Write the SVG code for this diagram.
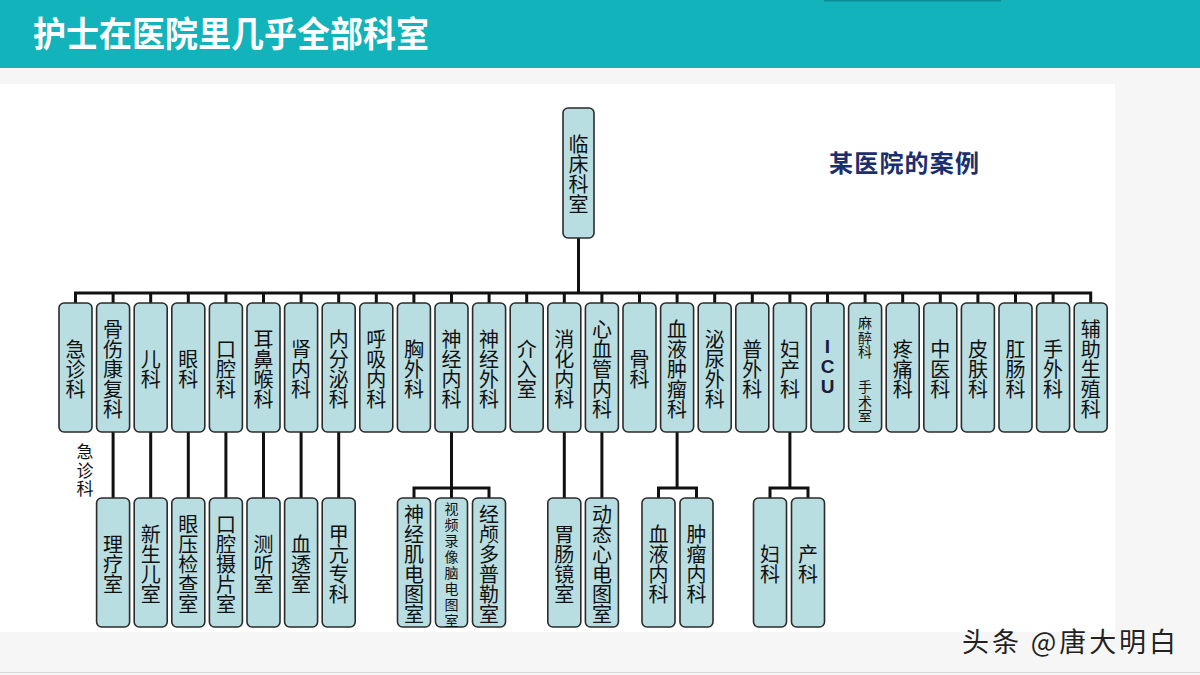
<svg xmlns="http://www.w3.org/2000/svg" width="1200" height="675" viewBox="0 0 1200 675">
<style>
.box{fill:#B8DEE2;stroke:#2b2b2b;stroke-width:1.6}
.t{font-family:"Noto Sans CJK SC","Noto Sans",sans-serif;font-size:20px;fill:#111;text-anchor:middle;dominant-baseline:central}
.t tspan{dominant-baseline:central}
.s{font-size:14px}
.xs{font-size:14px}
.ln{fill:none;stroke:#111;stroke-width:3;stroke-linejoin:miter}
</style>
<rect x="0" y="0" width="1200" height="675" fill="#F6F6F6"/>
<rect x="0" y="84" width="1115" height="548" fill="#FFFFFF"/>
<line x1="0" y1="672.5" x2="1200" y2="672.5" stroke="#DADADA" stroke-width="1"/>
<g id="header">
<rect x="0" y="0" width="1200" height="68" fill="#12B3BB"/>
<rect x="824" y="0" width="177" height="1.5" fill="#0B8E95"/>
<text x="33" y="47" font-family="'Noto Sans CJK SC',sans-serif" font-size="35" font-weight="bold" fill="#FFFFFF" textLength="396" lengthAdjust="spacingAndGlyphs">护士在医院里几乎全部科室</text>
</g>
<text id="caption" x="829" y="172" font-family="'Noto Sans CJK SC',sans-serif" font-size="24" font-weight="bold" fill="#1B2F6E" textLength="150">某医院的案例</text>

<g id="connectors">
<path class="ln" d="M578.5 238V293"/>
<path class="ln" d="M75.5 303V293H1090.7V303"/>
<path class="ln" d="M113.1 293V303M150.7 293V303M188.3 293V303M225.9 293V303M263.5 293V303M301.1 293V303M338.7 293V303M376.3 293V303M413.9 293V303M451.5 293V303M489.1 293V303M526.7 293V303M564.3 293V303M601.9 293V303M639.5 293V303M677.1 293V303M714.7 293V303M752.3 293V303M789.9 293V303M827.5 293V303M865.1 293V303M902.7 293V303M940.3 293V303M977.9 293V303M1015.5 293V303M1053.1 293V303"/>
<path class="ln" d="M113.1 432V498M150.7 432V498M188.3 432V498M225.9 432V498M263.5 432V498M301.1 432V498M338.7 432V498M564.3 432V498M601.9 432V498"/>
<path class="ln" d="M451.5 432V498M414 498V488H489V498"/>
<path class="ln" d="M677.1 432V488M658.5 498V488H696.5V498"/>
<path class="ln" d="M789.9 432V488M770 498V488H808V498"/>
</g>

<g id="root"><rect class="box" x="563" y="108" width="31" height="130" rx="5"/>
<text class="t"><tspan x="578.5" y="143">临</tspan><tspan x="578.5" dy="20">床</tspan><tspan x="578.5" dy="20">科</tspan><tspan x="578.5" dy="20">室</tspan></text></g>

<g id="n0"><rect class="box" x="59" y="303" width="33" height="129" rx="5"/>
<text class="t"><tspan x="75.5" y="347.5">急</tspan><tspan x="75.5" dy="20">诊</tspan><tspan x="75.5" dy="20">科</tspan></text></g>
<g id="n1"><rect class="box" x="96.6" y="303" width="33" height="129" rx="5"/>
<text class="t"><tspan x="113.1" y="327.5">骨</tspan><tspan x="113.1" dy="20">伤</tspan><tspan x="113.1" dy="20">康</tspan><tspan x="113.1" dy="20">复</tspan><tspan x="113.1" dy="20">科</tspan></text></g>
<g id="n2"><rect class="box" x="134.2" y="303" width="33" height="129" rx="5"/>
<text class="t"><tspan x="150.7" y="357.5">儿</tspan><tspan x="150.7" dy="20">科</tspan></text></g>
<g id="n3"><rect class="box" x="171.8" y="303" width="33" height="129" rx="5"/>
<text class="t"><tspan x="188.3" y="357.5">眼</tspan><tspan x="188.3" dy="20">科</tspan></text></g>
<g id="n4"><rect class="box" x="209.4" y="303" width="33" height="129" rx="5"/>
<text class="t"><tspan x="225.9" y="347.5">口</tspan><tspan x="225.9" dy="20">腔</tspan><tspan x="225.9" dy="20">科</tspan></text></g>
<g id="n5"><rect class="box" x="247" y="303" width="33" height="129" rx="5"/>
<text class="t"><tspan x="263.5" y="337.5">耳</tspan><tspan x="263.5" dy="20">鼻</tspan><tspan x="263.5" dy="20">喉</tspan><tspan x="263.5" dy="20">科</tspan></text></g>
<g id="n6"><rect class="box" x="284.6" y="303" width="33" height="129" rx="5"/>
<text class="t"><tspan x="301.1" y="347.5">肾</tspan><tspan x="301.1" dy="20">内</tspan><tspan x="301.1" dy="20">科</tspan></text></g>
<g id="n7"><rect class="box" x="322.2" y="303" width="33" height="129" rx="5"/>
<text class="t"><tspan x="338.7" y="337.5">内</tspan><tspan x="338.7" dy="20">分</tspan><tspan x="338.7" dy="20">泌</tspan><tspan x="338.7" dy="20">科</tspan></text></g>
<g id="n8"><rect class="box" x="359.8" y="303" width="33" height="129" rx="5"/>
<text class="t"><tspan x="376.3" y="337.5">呼</tspan><tspan x="376.3" dy="20">吸</tspan><tspan x="376.3" dy="20">内</tspan><tspan x="376.3" dy="20">科</tspan></text></g>
<g id="n9"><rect class="box" x="397.4" y="303" width="33" height="129" rx="5"/>
<text class="t"><tspan x="413.9" y="347.5">胸</tspan><tspan x="413.9" dy="20">外</tspan><tspan x="413.9" dy="20">科</tspan></text></g>
<g id="n10"><rect class="box" x="435" y="303" width="33" height="129" rx="5"/>
<text class="t"><tspan x="451.5" y="337.5">神</tspan><tspan x="451.5" dy="20">经</tspan><tspan x="451.5" dy="20">内</tspan><tspan x="451.5" dy="20">科</tspan></text></g>
<g id="n11"><rect class="box" x="472.6" y="303" width="33" height="129" rx="5"/>
<text class="t"><tspan x="489.1" y="337.5">神</tspan><tspan x="489.1" dy="20">经</tspan><tspan x="489.1" dy="20">外</tspan><tspan x="489.1" dy="20">科</tspan></text></g>
<g id="n12"><rect class="box" x="510.2" y="303" width="33" height="129" rx="5"/>
<text class="t"><tspan x="526.7" y="347.5">介</tspan><tspan x="526.7" dy="20">入</tspan><tspan x="526.7" dy="20">室</tspan></text></g>
<g id="n13"><rect class="box" x="547.8" y="303" width="33" height="129" rx="5"/>
<text class="t"><tspan x="564.3" y="337.5">消</tspan><tspan x="564.3" dy="20">化</tspan><tspan x="564.3" dy="20">内</tspan><tspan x="564.3" dy="20">科</tspan></text></g>
<g id="n14"><rect class="box" x="585.4" y="303" width="33" height="129" rx="5"/>
<text class="t"><tspan x="601.9" y="327.5">心</tspan><tspan x="601.9" dy="20">血</tspan><tspan x="601.9" dy="20">管</tspan><tspan x="601.9" dy="20">内</tspan><tspan x="601.9" dy="20">科</tspan></text></g>
<g id="n15"><rect class="box" x="623" y="303" width="33" height="129" rx="5"/>
<text class="t"><tspan x="639.5" y="357.5">骨</tspan><tspan x="639.5" dy="20">科</tspan></text></g>
<g id="n16"><rect class="box" x="660.6" y="303" width="33" height="129" rx="5"/>
<text class="t"><tspan x="677.1" y="327.5">血</tspan><tspan x="677.1" dy="20">液</tspan><tspan x="677.1" dy="20">肿</tspan><tspan x="677.1" dy="20">瘤</tspan><tspan x="677.1" dy="20">科</tspan></text></g>
<g id="n17"><rect class="box" x="698.2" y="303" width="33" height="129" rx="5"/>
<text class="t"><tspan x="714.7" y="337.5">泌</tspan><tspan x="714.7" dy="20">尿</tspan><tspan x="714.7" dy="20">外</tspan><tspan x="714.7" dy="20">科</tspan></text></g>
<g id="n18"><rect class="box" x="735.8" y="303" width="33" height="129" rx="5"/>
<text class="t"><tspan x="752.3" y="347.5">普</tspan><tspan x="752.3" dy="20">外</tspan><tspan x="752.3" dy="20">科</tspan></text></g>
<g id="n19"><rect class="box" x="773.4" y="303" width="33" height="129" rx="5"/>
<text class="t"><tspan x="789.9" y="347.5">妇</tspan><tspan x="789.9" dy="20">产</tspan><tspan x="789.9" dy="20">科</tspan></text></g>
<g id="n20"><rect class="box" x="811" y="303" width="33" height="129" rx="5"/>
<text class="t" style="font-family:'Liberation Sans',sans-serif;font-size:19px;font-weight:bold;fill:#1c1c3a"><tspan x="827.5" y="346">I</tspan><tspan x="827.5" dy="20">C</tspan><tspan x="827.5" dy="20">U</tspan></text></g>
<g id="n21"><rect class="box" x="848.6" y="303" width="33" height="129" rx="5"/>
<text class="t s"><tspan x="865.1" y="322">麻</tspan><tspan x="865.1" dy="14.5">醉</tspan><tspan x="865.1" dy="14.5">科</tspan><tspan x="865.1" dy="35">手</tspan><tspan x="865.1" dy="14.5">术</tspan><tspan x="865.1" dy="14.5">室</tspan></text></g>
<g id="n22"><rect class="box" x="886.2" y="303" width="33" height="129" rx="5"/>
<text class="t"><tspan x="902.7" y="347.5">疼</tspan><tspan x="902.7" dy="20">痛</tspan><tspan x="902.7" dy="20">科</tspan></text></g>
<g id="n23"><rect class="box" x="923.8" y="303" width="33" height="129" rx="5"/>
<text class="t"><tspan x="940.3" y="347.5">中</tspan><tspan x="940.3" dy="20">医</tspan><tspan x="940.3" dy="20">科</tspan></text></g>
<g id="n24"><rect class="box" x="961.4" y="303" width="33" height="129" rx="5"/>
<text class="t"><tspan x="977.9" y="347.5">皮</tspan><tspan x="977.9" dy="20">肤</tspan><tspan x="977.9" dy="20">科</tspan></text></g>
<g id="n25"><rect class="box" x="999" y="303" width="33" height="129" rx="5"/>
<text class="t"><tspan x="1015.5" y="347.5">肛</tspan><tspan x="1015.5" dy="20">肠</tspan><tspan x="1015.5" dy="20">科</tspan></text></g>
<g id="n26"><rect class="box" x="1036.6" y="303" width="33" height="129" rx="5"/>
<text class="t"><tspan x="1053.1" y="347.5">手</tspan><tspan x="1053.1" dy="20">外</tspan><tspan x="1053.1" dy="20">科</tspan></text></g>
<g id="n27"><rect class="box" x="1074.2" y="303" width="33" height="129" rx="5"/>
<text class="t"><tspan x="1090.7" y="327.5">辅</tspan><tspan x="1090.7" dy="20">助</tspan><tspan x="1090.7" dy="20">生</tspan><tspan x="1090.7" dy="20">殖</tspan><tspan x="1090.7" dy="20">科</tspan></text></g>

<text id="note" class="t" style="font-size:17px"><tspan x="85" y="450">急</tspan><tspan x="85" dy="18.5">诊</tspan><tspan x="85" dy="18.5">科</tspan></text>

<g id="c1"><rect class="box" x="96.6" y="498" width="33" height="129" rx="5"/>
<text class="t"><tspan x="113.1" y="542.5">理</tspan><tspan x="113.1" dy="20">疗</tspan><tspan x="113.1" dy="20">室</tspan></text></g>
<g id="c2"><rect class="box" x="134.2" y="498" width="33" height="129" rx="5"/>
<text class="t"><tspan x="150.7" y="532.5">新</tspan><tspan x="150.7" dy="20">生</tspan><tspan x="150.7" dy="20">儿</tspan><tspan x="150.7" dy="20">室</tspan></text></g>
<g id="c3"><rect class="box" x="171.8" y="498" width="33" height="129" rx="5"/>
<text class="t"><tspan x="188.3" y="522.5">眼</tspan><tspan x="188.3" dy="20">压</tspan><tspan x="188.3" dy="20">检</tspan><tspan x="188.3" dy="20">查</tspan><tspan x="188.3" dy="20">室</tspan></text></g>
<g id="c4"><rect class="box" x="209.4" y="498" width="33" height="129" rx="5"/>
<text class="t"><tspan x="225.9" y="522.5">口</tspan><tspan x="225.9" dy="20">腔</tspan><tspan x="225.9" dy="20">摄</tspan><tspan x="225.9" dy="20">片</tspan><tspan x="225.9" dy="20">室</tspan></text></g>
<g id="c5"><rect class="box" x="247" y="498" width="33" height="129" rx="5"/>
<text class="t"><tspan x="263.5" y="542.5">测</tspan><tspan x="263.5" dy="20">听</tspan><tspan x="263.5" dy="20">室</tspan></text></g>
<g id="c6"><rect class="box" x="284.6" y="498" width="33" height="129" rx="5"/>
<text class="t"><tspan x="301.1" y="542.5">血</tspan><tspan x="301.1" dy="20">透</tspan><tspan x="301.1" dy="20">室</tspan></text></g>
<g id="c7"><rect class="box" x="322.2" y="498" width="33" height="129" rx="5"/>
<text class="t"><tspan x="338.7" y="532.5">甲</tspan><tspan x="338.7" dy="20">亢</tspan><tspan x="338.7" dy="20">专</tspan><tspan x="338.7" dy="20">科</tspan></text></g>
<g id="c10a"><rect class="box" x="397.5" y="498" width="33" height="129" rx="5"/>
<text class="t"><tspan x="414" y="512.5">神</tspan><tspan x="414" dy="20">经</tspan><tspan x="414" dy="20">肌</tspan><tspan x="414" dy="20">电</tspan><tspan x="414" dy="20">图</tspan><tspan x="414" dy="20">室</tspan></text></g>
<g id="c10b"><rect class="box" x="435.5" y="498" width="32" height="129" rx="5"/>
<text class="t xs"><tspan x="451.5" y="507.5">视</tspan><tspan x="451.5" dy="16.1">频</tspan><tspan x="451.5" dy="16.1">录</tspan><tspan x="451.5" dy="16.1">像</tspan><tspan x="451.5" dy="16.1">脑</tspan><tspan x="451.5" dy="16.1">电</tspan><tspan x="451.5" dy="16.1">图</tspan><tspan x="451.5" dy="16.1">室</tspan></text></g>
<g id="c10c"><rect class="box" x="472.5" y="498" width="33" height="129" rx="5"/>
<text class="t"><tspan x="489" y="512.5">经</tspan><tspan x="489" dy="20">颅</tspan><tspan x="489" dy="20">多</tspan><tspan x="489" dy="20">普</tspan><tspan x="489" dy="20">勒</tspan><tspan x="489" dy="20">室</tspan></text></g>
<g id="c13"><rect class="box" x="547.8" y="498" width="33" height="129" rx="5"/>
<text class="t"><tspan x="564.3" y="532.5">胃</tspan><tspan x="564.3" dy="20">肠</tspan><tspan x="564.3" dy="20">镜</tspan><tspan x="564.3" dy="20">室</tspan></text></g>
<g id="c14"><rect class="box" x="585.4" y="498" width="33" height="129" rx="5"/>
<text class="t"><tspan x="601.9" y="512.5">动</tspan><tspan x="601.9" dy="20">态</tspan><tspan x="601.9" dy="20">心</tspan><tspan x="601.9" dy="20">电</tspan><tspan x="601.9" dy="20">图</tspan><tspan x="601.9" dy="20">室</tspan></text></g>
<g id="c16a"><rect class="box" x="642" y="498" width="33" height="129" rx="5"/>
<text class="t"><tspan x="658.5" y="532.5">血</tspan><tspan x="658.5" dy="20">液</tspan><tspan x="658.5" dy="20">内</tspan><tspan x="658.5" dy="20">科</tspan></text></g>
<g id="c16b"><rect class="box" x="680" y="498" width="33" height="129" rx="5"/>
<text class="t"><tspan x="696.5" y="532.5">肿</tspan><tspan x="696.5" dy="20">瘤</tspan><tspan x="696.5" dy="20">内</tspan><tspan x="696.5" dy="20">科</tspan></text></g>
<g id="c19a"><rect class="box" x="753.5" y="498" width="33" height="129" rx="5"/>
<text class="t"><tspan x="770" y="552.5">妇</tspan><tspan x="770" dy="20">科</tspan></text></g>
<g id="c19b"><rect class="box" x="791.5" y="498" width="33" height="129" rx="5"/>
<text class="t"><tspan x="808" y="552.5">产</tspan><tspan x="808" dy="20">科</tspan></text></g>

<text id="watermark" x="962" y="652" font-family="'Noto Sans CJK SC',sans-serif" font-size="27" fill="#222" stroke="#FFFFFF" stroke-width="0.6" paint-order="stroke" textLength="214">头条 @唐大明白</text>
</svg>
